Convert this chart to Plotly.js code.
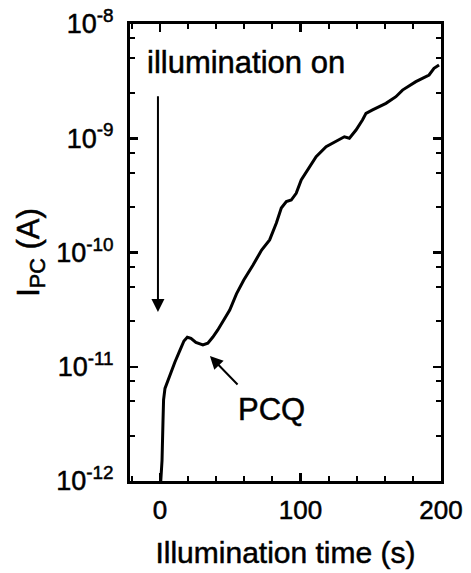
<!DOCTYPE html>
<html>
<head>
<meta charset="utf-8">
<script src="https://cdn.plot.ly/plotly-3.0.1.min.js"></script>
<style>
  html, body { margin: 0; padding: 0; background: #fff; }
  #chart { width: 471px; height: 573px; }
  #chart text { stroke: #000; stroke-width: 0.5px; }
</style>
</head>
<body>
<div id="chart"></div>
<script>
// Illumination time (s)
const time_s = [0.5, 1.4, 2.1, 2.5, 3.5, 7.1, 10.6, 14.2, 17.0, 19.4, 22.0, 25.5, 30.5, 34.0, 37.6, 41.1, 45.4, 49.6, 54.4, 59.6, 66.2, 72.3, 78.0, 82.8, 86.3, 89.9, 93.4, 96.9, 100.5, 106.4, 111.1, 118.2, 125.3, 131.2, 134.8, 139.5, 144.2, 146.6, 151.3, 160.8, 167.9, 172.6, 182.1, 191.5, 195.0, 198.6];
// Photocurrent I_PC (A)
const current_A = [1.0e-12, 1.51e-12, 3.39e-12, 5.13e-12, 6.46e-12, 8.51e-12, 1.10e-11, 1.40e-11, 1.68e-11, 1.81e-11, 1.77e-11, 1.63e-11, 1.55e-11, 1.61e-11, 1.82e-11, 2.10e-11, 2.56e-11, 3.14e-11, 4.34e-11, 5.74e-11, 7.78e-11, 1.05e-10, 1.29e-10, 1.81e-10, 2.45e-10, 2.79e-10, 2.88e-10, 3.30e-10, 4.32e-10, 5.64e-10, 6.90e-10, 8.43e-10, 9.33e-10, 1.03e-9, 1.00e-9, 1.18e-9, 1.45e-9, 1.65e-9, 1.77e-9, 2.02e-9, 2.31e-9, 2.64e-9, 3.13e-9, 3.58e-9, 4.09e-9, 4.38e-9];

const xTickVals = [0, 100, 200];
const xTickText = ['0', '100', '200'];
const xMinorVals = [-20, 20, 40, 60, 80, 120, 140, 160, 180];
const yTickVals = [1e-12, 1e-11, 1e-10, 1e-9, 1e-8];
const yTickText = ['10<sup>-12</sup>', '10<sup>-11</sup>', '10<sup>-10</sup>', '10<sup>-9</sup>', '10<sup>-8</sup>'];
const yMinorMantissa = [2.5, 5, 7.5];
const yMinorVals = [];
[-12, -11, -10, -9].forEach(e => yMinorMantissa.forEach(m => yMinorVals.push(m * Math.pow(10, e))));

const FONT = 'Liberation Sans, Arial, sans-serif';

const trace = {
  x: time_s, y: current_A, type: 'scatter', mode: 'lines',
  line: { color: '#000', width: 3 },
  hoverinfo: 'skip', showlegend: false
};

const layout = {
  width: 471, height: 573,
  margin: { l: 130, r: 30, t: 24, b: 92 },
  paper_bgcolor: '#fff', plot_bgcolor: '#fff',
  font: { family: FONT, color: '#000' },
  showlegend: false,
  xaxis: {
    range: [-21.4, 200], showgrid: false, zeroline: false,
    showline: true, linecolor: '#000', linewidth: 3, mirror: 'ticks',
    ticks: 'inside', ticklen: 8, tickwidth: 2.5, tickcolor: '#000',
    tickmode: 'array', tickvals: xTickVals, ticktext: xTickText,
    tickfont: { size: 26, family: FONT, color: '#000' },
    ticklabelstandoff: 4,
    minor: { tickmode: 'array', tickvals: xMinorVals, ticks: 'inside', ticklen: 5, tickwidth: 2, tickcolor: '#000', showgrid: false },
    title: { text: 'Illumination time (s)', font: { size: 30, family: FONT, color: '#000' }, standoff: 18 }
  },
  yaxis: {
    type: 'log', range: [-12, -8], showgrid: false, zeroline: false,
    showline: true, linecolor: '#000', linewidth: 3, mirror: 'ticks',
    ticks: 'inside', ticklen: 8, tickwidth: 2.5, tickcolor: '#000',
    tickmode: 'array', tickvals: yTickVals, ticktext: yTickText,
    tickfont: { size: 27, family: FONT, color: '#000' },
    ticklabelstandoff: 8,
    minor: { tickmode: 'array', tickvals: yMinorVals, ticks: 'inside', ticklen: 5, tickwidth: 2, tickcolor: '#000', showgrid: false },
    title: { text: 'I<sub>PC</sub> (A)', font: { size: 31, family: FONT, color: '#000' }, standoff: 8 }
  },
  annotations: [
    { x: 61.5, y: -8.333, xref: 'x', yref: 'y', text: 'illumination on', showarrow: false,
      font: { size: 31, family: FONT, color: '#000' }, xanchor: 'center', yanchor: 'middle' },
    { x: -1.5, y: -10.52, ax: -1.5, ay: -8.62, xref: 'x', yref: 'y', axref: 'x', ayref: 'y',
      text: '', showarrow: true, arrowhead: 2, arrowsize: 1.3, arrowwidth: 2, arrowcolor: '#000' },
    { x: 35.5, y: -10.906, ax: 56.2, ay: -11.169, xref: 'x', yref: 'y', axref: 'x', ayref: 'y',
      text: '', showarrow: true, arrowhead: 2, arrowsize: 1.3, arrowwidth: 2, arrowcolor: '#000' },
    { x: 79.1, y: -11.378, xref: 'x', yref: 'y', text: 'PCQ', showarrow: false,
      font: { size: 31, family: FONT, color: '#000' }, xanchor: 'center', yanchor: 'middle' }
  ]
};

Plotly.newPlot('chart', [trace], layout, { staticPlot: true, displayModeBar: false });
</script>
</body>
</html>
